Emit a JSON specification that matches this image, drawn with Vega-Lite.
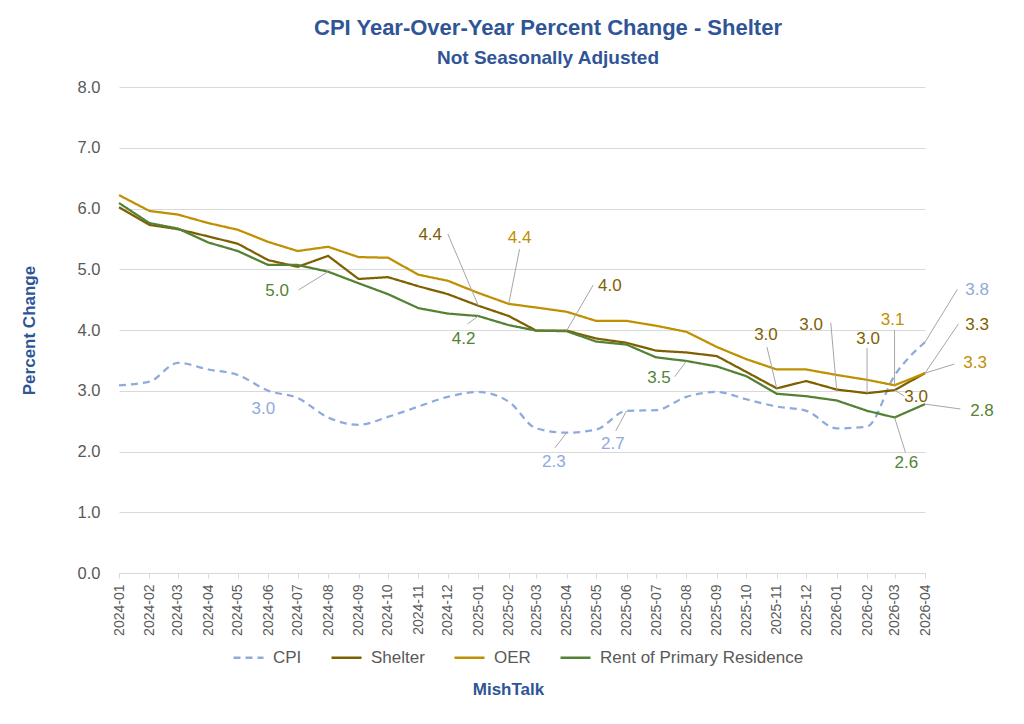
{
  "$schema": "https://vega.github.io/schema/vega-lite/v6.json",
  "description": "CPI year-over-year percent change, shelter components, not seasonally adjusted.",
  "width": 806,
  "height": 486,
  "autosize": {"type": "none"},
  "padding": {"left": 119, "top": 87, "right": 99, "bottom": 151},
  "title": {
    "text": "CPI Year-Over-Year Percent Change - Shelter",
    "subtitle": "Not Seasonally Adjusted",
    "anchor": "middle", "dx": 26, "offset": 10,
    "font": "Liberation Sans", "fontSize": 22, "fontWeight": "bold", "color": "#2f5597",
    "subtitleFont": "Liberation Sans", "subtitleFontSize": 19, "subtitleFontWeight": "bold",
    "subtitleColor": "#2f5597", "subtitlePadding": 9
  },
  "datasets": {
    "cpi": [
      {"month": "2024-01-01", "CPI": 3.09, "Shelter": 6.02, "OER": 6.22, "Rent of Primary Residence": 6.09},
      {"month": "2024-02-01", "CPI": 3.15, "Shelter": 5.73, "OER": 5.96, "Rent of Primary Residence": 5.76},
      {"month": "2024-03-01", "CPI": 3.46, "Shelter": 5.66, "OER": 5.90, "Rent of Primary Residence": 5.67},
      {"month": "2024-04-01", "CPI": 3.35, "Shelter": 5.54, "OER": 5.76, "Rent of Primary Residence": 5.44},
      {"month": "2024-05-01", "CPI": 3.26, "Shelter": 5.42, "OER": 5.65, "Rent of Primary Residence": 5.30},
      {"month": "2024-06-01", "CPI": 3.00, "Shelter": 5.15, "OER": 5.45, "Rent of Primary Residence": 5.07},
      {"month": "2024-07-01", "CPI": 2.88, "Shelter": 5.04, "OER": 5.30, "Rent of Primary Residence": 5.07},
      {"month": "2024-08-01", "CPI": 2.56, "Shelter": 5.22, "OER": 5.37, "Rent of Primary Residence": 4.96},
      {"month": "2024-09-01", "CPI": 2.44, "Shelter": 4.84, "OER": 5.20, "Rent of Primary Residence": 4.77},
      {"month": "2024-10-01", "CPI": 2.57, "Shelter": 4.87, "OER": 5.19, "Rent of Primary Residence": 4.59},
      {"month": "2024-11-01", "CPI": 2.74, "Shelter": 4.72, "OER": 4.91, "Rent of Primary Residence": 4.36},
      {"month": "2024-12-01", "CPI": 2.90, "Shelter": 4.59, "OER": 4.81, "Rent of Primary Residence": 4.27},
      {"month": "2025-01-01", "CPI": 2.98, "Shelter": 4.40, "OER": 4.61, "Rent of Primary Residence": 4.23},
      {"month": "2025-02-01", "CPI": 2.82, "Shelter": 4.23, "OER": 4.43, "Rent of Primary Residence": 4.08},
      {"month": "2025-03-01", "CPI": 2.38, "Shelter": 3.99, "OER": 4.37, "Rent of Primary Residence": 3.99},
      {"month": "2025-04-01", "CPI": 2.31, "Shelter": 3.99, "OER": 4.30, "Rent of Primary Residence": 3.98},
      {"month": "2025-05-01", "CPI": 2.36, "Shelter": 3.86, "OER": 4.15, "Rent of Primary Residence": 3.81},
      {"month": "2025-06-01", "CPI": 2.67, "Shelter": 3.79, "OER": 4.15, "Rent of Primary Residence": 3.76},
      {"month": "2025-07-01", "CPI": 2.68, "Shelter": 3.66, "OER": 4.07, "Rent of Primary Residence": 3.55},
      {"month": "2025-08-01", "CPI": 2.90, "Shelter": 3.63, "OER": 3.97, "Rent of Primary Residence": 3.49},
      {"month": "2025-09-01", "CPI": 2.98, "Shelter": 3.57, "OER": 3.72, "Rent of Primary Residence": 3.40},
      {"month": "2025-10-01", "CPI": 2.86, "Shelter": 3.31, "OER": 3.52, "Rent of Primary Residence": 3.24},
      {"month": "2025-11-01", "CPI": 2.74, "Shelter": 3.04, "OER": 3.35, "Rent of Primary Residence": 2.95},
      {"month": "2025-12-01", "CPI": 2.67, "Shelter": 3.16, "OER": 3.35, "Rent of Primary Residence": 2.91},
      {"month": "2026-01-01", "CPI": 2.38, "Shelter": 3.02, "OER": 3.26, "Rent of Primary Residence": 2.84},
      {"month": "2026-02-01", "CPI": 2.41, "Shelter": 2.96, "OER": 3.18, "Rent of Primary Residence": 2.67},
      {"month": "2026-03-01", "CPI": 3.25, "Shelter": 3.01, "OER": 3.09, "Rent of Primary Residence": 2.56},
      {"month": "2026-04-01", "CPI": 3.80, "Shelter": 3.29, "OER": 3.29, "Rent of Primary Residence": 2.78}
    ],
    "notes": [
      {"series": "Rent of Primary Residence", "label": "5.0", "month": "2024-08-01", "value": 4.96, "tx": "2024-06-10", "ty": 4.64, "lx": "2024-07-02", "ly": 4.66},
      {"series": "CPI", "label": "3.0", "month": "2024-06-01", "value": 3.00, "tx": "2024-05-27", "ty": 2.70, "lx": null, "ly": null},
      {"series": "Shelter", "label": "4.4", "month": "2025-01-01", "value": 4.40, "tx": "2024-11-13", "ty": 5.56, "lx": "2024-12-01", "ly": 5.58},
      {"series": "OER", "label": "4.4", "month": "2025-02-01", "value": 4.43, "tx": "2025-02-12", "ty": 5.51, "lx": "2025-02-12", "ly": 5.33},
      {"series": "Rent of Primary Residence", "label": "4.2", "month": "2025-01-01", "value": 4.23, "tx": "2024-12-17", "ty": 3.85, "lx": "2024-12-21", "ly": 4.10},
      {"series": "Shelter", "label": "4.0", "month": "2025-04-01", "value": 3.99, "tx": "2025-05-15", "ty": 4.72, "lx": "2025-04-28", "ly": 4.74},
      {"series": "CPI", "label": "2.3", "month": "2025-04-01", "value": 2.31, "tx": "2025-03-19", "ty": 1.83, "lx": "2025-03-20", "ly": 2.06},
      {"series": "CPI", "label": "2.7", "month": "2025-06-01", "value": 2.67, "tx": "2025-05-18", "ty": 2.12, "lx": "2025-05-21", "ly": 2.34},
      {"series": "Rent of Primary Residence", "label": "3.5", "month": "2025-08-01", "value": 3.49, "tx": "2025-07-04", "ty": 3.21, "lx": "2025-07-20", "ly": 3.23},
      {"series": "Shelter", "label": "3.0", "month": "2025-11-01", "value": 3.04, "tx": "2025-10-21", "ty": 3.92, "lx": "2025-10-22", "ly": 3.72},
      {"series": "Shelter", "label": "3.0", "month": "2026-01-01", "value": 3.02, "tx": "2025-12-06", "ty": 4.08, "lx": "2025-12-26", "ly": 4.12},
      {"series": "Shelter", "label": "3.0", "month": "2026-02-01", "value": 2.96, "tx": "2026-02-02", "ty": 3.85, "lx": "2026-02-01", "ly": 3.70},
      {"series": "OER", "label": "3.1", "month": "2026-03-01", "value": 3.09, "tx": "2026-02-27", "ty": 4.16, "lx": "2026-03-01", "ly": 4.00},
      {"series": "Shelter", "label": "3.0", "month": "2026-03-01", "value": 3.01, "tx": "2026-03-23", "ty": 2.90, "lx": "2026-03-11", "ly": 2.91},
      {"series": "CPI", "label": "3.8", "month": "2026-04-01", "value": 3.80, "tx": "2026-05-24", "ty": 4.66, "lx": "2026-05-04", "ly": 4.67},
      {"series": "Shelter", "label": "3.3", "month": "2026-04-01", "value": 3.29, "tx": "2026-05-24", "ty": 4.08, "lx": "2026-05-05", "ly": 4.10},
      {"series": "OER", "label": "3.3", "month": "2026-04-01", "value": 3.29, "tx": "2026-05-22", "ty": 3.46, "lx": "2026-05-01", "ly": 3.44},
      {"series": "Rent of Primary Residence", "label": "2.8", "month": "2026-04-01", "value": 2.78, "tx": "2026-05-29", "ty": 2.67, "lx": "2026-05-07", "ly": 2.70},
      {"series": "Rent of Primary Residence", "label": "2.6", "month": "2026-03-01", "value": 2.56, "tx": "2026-03-13", "ty": 1.81, "lx": "2026-03-12", "ly": 1.99}
    ]
  },
  "layer": [
    {
      "data": {"name": "cpi"},
      "transform": [
        {"fold": ["CPI", "Shelter", "OER", "Rent of Primary Residence"], "as": ["series", "value"]},
        {"filter": "datum.series == 'CPI'"}
      ],
      "mark": {"type": "line", "strokeWidth": 2.25, "interpolate": "monotone"},
      "encoding": {
        "x": {
          "field": "month", "type": "temporal",
          "scale": {"type": "utc", "domain": [{"year": 2024, "month": 1, "date": 1, "utc": true}, {"year": 2026, "month": 4, "date": 1, "utc": true}], "nice": false},
          "axis": {
            "title": "MishTalk", "format": "%Y-%m", "tickCount": {"interval": "month", "step": 1},
            "labelAngle": -90, "labelFontSize": 14, "labelColor": "#595959", "labelPadding": 6,
            "labelFlush": false, "labelOverlap": false,
            "tickColor": "#d9d9d9", "tickSize": 5, "domainColor": "#d9d9d9", "grid": false,
            "titleFontSize": 17, "titleColor": "#2f5597", "titleFontWeight": "bold",
            "titleX": 389, "titleY": 116, "titleBaseline": "middle"
          }
        },
        "y": {
          "field": "value", "type": "quantitative",
          "scale": {"domain": [0, 8], "nice": false},
          "axis": {
            "title": "Percent Change", "values": [0, 1, 2, 3, 4, 5, 6, 7, 8], "format": ".1f",
            "labelFontSize": 16.5, "labelColor": "#595959", "labelPadding": 19,
            "ticks": false, "domain": false, "gridColor": "#d9d9d9",
            "titleFontSize": 17, "titleColor": "#2f5597", "titleFontWeight": "bold", "titlePadding": 39
          }
        },
        "color": {
          "field": "series", "type": "nominal",
          "scale": {"domain": ["CPI", "Shelter", "OER", "Rent of Primary Residence"], "range": ["#8faadc", "#7f6000", "#bf9000", "#548235"]}
        },
        "strokeDash": {
          "field": "series", "type": "nominal",
          "scale": {"domain": ["CPI", "Shelter", "OER", "Rent of Primary Residence"], "range": [[7, 5], [1, 0], [1, 0], [1, 0]]}
        }
      }
    },
    {
      "data": {"name": "cpi"},
      "transform": [
        {"fold": ["CPI", "Shelter", "OER", "Rent of Primary Residence"], "as": ["series", "value"]},
        {"filter": "datum.series != 'CPI'"}
      ],
      "mark": {"type": "line", "strokeWidth": 2.25},
      "encoding": {
        "x": {"field": "month", "type": "temporal", "axis": {"title": "MishTalk"}},
        "y": {"field": "value", "type": "quantitative", "axis": {"title": "Percent Change"}},
        "color": {"field": "series", "type": "nominal"},
        "strokeDash": {"field": "series", "type": "nominal"}
      }
    },
    {
      "data": {"name": "notes"},
      "transform": [{"filter": "datum.lx != null"}],
      "mark": {"type": "rule", "color": "#a6a6a6", "strokeWidth": 1},
      "encoding": {
        "x": {"field": "lx", "type": "temporal", "axis": {"title": "MishTalk"}},
        "y": {"field": "ly", "type": "quantitative", "axis": {"title": "Percent Change"}},
        "x2": {"field": "month"},
        "y2": {"field": "value"}
      }
    },
    {
      "data": {"name": "notes"},
      "mark": {"type": "text", "fontSize": 17, "align": "center", "baseline": "middle"},
      "encoding": {
        "x": {"field": "tx", "type": "temporal", "axis": {"title": "MishTalk"}},
        "y": {"field": "ty", "type": "quantitative", "axis": {"title": "Percent Change"}},
        "text": {"field": "label"},
        "color": {"field": "series", "type": "nominal"}
      }
    }
  ],
  "config": {
    "font": "Liberation Sans",
    "view": {"stroke": null},
    "legend": {
      "orient": "none", "legendX": 113, "legendY": 554, "direction": "horizontal",
      "title": null, "labelFontSize": 17, "labelColor": "#595959", "labelLimit": 400,
      "symbolSize": 900, "symbolStrokeWidth": 2.5, "symbolType": "stroke",
      "columnPadding": 24, "labelOffset": 8
    }
  }
}
